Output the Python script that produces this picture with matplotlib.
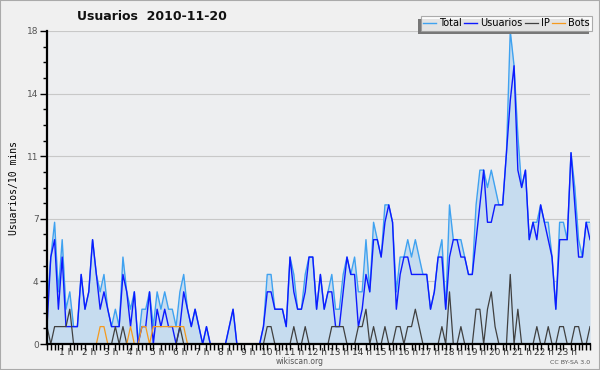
import matplotlib
matplotlib.use("Agg")
import matplotlib.pyplot as plt
from matplotlib.patches import Rectangle
import numpy as np

# 10-minute slots over one day (144 values)
total = [2, 5, 7, 3, 6, 2, 3, 1, 1, 4,
         2, 3, 6, 4, 3, 4, 2, 1, 2, 1,
         5, 3, 2, 3, 0, 2, 2, 3, 1, 3,
         2, 3, 2, 2, 1, 3, 4, 2, 1, 2,
         1, 0, 1, 0, 0, 0, 0, 0, 1, 2,
         0, 0, 0, 0, 0, 0, 0, 1, 4, 4,
         2, 2, 2, 1, 5, 4, 2, 2, 4, 5,
         5, 2, 4, 2, 3, 4, 2, 2, 4, 5,
         4, 5, 3, 3, 6, 3, 7, 6, 5, 8,
         8, 7, 3, 5, 5, 6, 5, 6, 5, 4,
         4, 2, 3, 5, 6, 2, 8, 6, 6, 6,
         5, 4, 4, 8, 10, 10, 9, 10, 9, 8,
         8, 11, 18, 16, 12, 9, 10, 6, 7, 7,
         8, 7, 7, 5, 2, 7, 7, 6, 11, 9,
         6, 5, 7, 7]
usuarios = [1, 5, 6, 2, 5, 1, 1, 1, 1, 4,
            2, 3, 6, 4, 2, 3, 2, 1, 1, 1,
            4, 3, 1, 3, 0, 1, 1, 3, 0, 2,
            1, 2, 1, 1, 0, 1, 3, 2, 1, 2,
            1, 0, 1, 0, 0, 0, 0, 0, 1, 2,
            0, 0, 0, 0, 0, 0, 0, 1, 3, 3,
            2, 2, 2, 1, 5, 3, 2, 2, 3, 5,
            5, 2, 4, 2, 3, 3, 1, 1, 3, 5,
            4, 4, 1, 2, 4, 3, 6, 6, 5, 7,
            8, 7, 2, 4, 5, 5, 4, 4, 4, 4,
            4, 2, 3, 5, 5, 2, 5, 6, 6, 5,
            5, 4, 4, 6, 8, 10, 7, 7, 8, 8,
            8, 11, 14, 16, 10, 9, 10, 6, 7, 6,
            8, 7, 6, 5, 2, 6, 6, 6, 11, 8,
            5, 5, 7, 6]
ip = [1, 0, 1, 1, 1, 1, 2, 0, 0, 0,
      0, 0, 0, 0, 0, 0, 0, 0, 1, 0,
      1, 0, 0, 0, 0, 0, 0, 0, 0, 0,
      0, 0, 0, 0, 0, 1, 0, 0, 0, 0,
      0, 0, 0, 0, 0, 0, 0, 0, 0, 0,
      0, 0, 0, 0, 0, 0, 0, 0, 1, 1,
      0, 0, 0, 0, 0, 1, 0, 0, 1, 0,
      0, 0, 0, 0, 0, 1, 1, 1, 1, 0,
      0, 0, 1, 1, 2, 0, 1, 0, 0, 1,
      0, 0, 1, 1, 0, 1, 1, 2, 1, 0,
      0, 0, 0, 0, 1, 0, 3, 0, 0, 1,
      0, 0, 0, 2, 2, 0, 2, 3, 1, 0,
      0, 0, 4, 0, 2, 0, 0, 0, 0, 1,
      0, 0, 1, 0, 0, 1, 1, 0, 0, 1,
      1, 0, 0, 1]
bots = [0] * 144
for k in [14, 15, 22, 25, 26, 28, 29, 30, 31, 32, 33, 34, 35, 36]:
    bots[k] = 1

hour_labels = ["%d h" % h for h in range(1, 24)]
ytick_vals = [0, 3.6, 7.2, 10.8, 14.4, 18]
ytick_labels = ["0", "4", "7", "11", "14", "18"]

x = np.arange(len(total))

fig = plt.figure(figsize=(6, 3.7), dpi=100, facecolor="#f0f0f0")
ax = fig.add_axes([47/600, 1-344/370, 543/600, 313/370])
ax.set_facecolor("#edeef0")

ax.fill_between(x, total, color="#c6dcef", lw=0)
ax.plot(x, total, color="#3fa2f0", lw=1.0, label="Total")
ax.plot(x, usuarios, color="#0d1aff", lw=1.0, label="Usuarios")
ax.plot(x, ip, color="#404040", lw=0.9, label="IP")
ax.plot(x, bots, color="#f59a1e", lw=0.9, label="Bots")

ax.set_xlim(0, 143)
ax.set_ylim(0, 18)
ax.set_yticks(ytick_vals)
ax.set_yticklabels(ytick_labels)
ax.set_yticks(np.arange(0, 18.01, 0.9), minor=True)
ax.yaxis.grid(True, color="#c8c8c8", lw=0.8)
ax.set_axisbelow(True)

ax.set_xticks([6*h - 1 for h in range(1, 24)])
ax.set_xticklabels(hour_labels)
ax.set_xticks(x, minor=True)
ax.tick_params(axis="x", which="major", length=0, pad=3, labelsize=6.5, colors="#333333")
ax.tick_params(axis="x", which="minor", length=4, width=1, color="black")
ax.tick_params(axis="y", which="major", length=5, width=1, labelsize=6.5, labelcolor="#555555", pad=1)
ax.tick_params(axis="y", which="minor", length=3, width=1)

for s in ["top", "right"]:
    ax.spines[s].set_visible(False)
for s in ["left", "bottom"]:
    ax.spines[s].set_linewidth(1.6)

ax.set_ylabel("Usuarios/10 mins", family="DejaVu Sans Mono", fontsize=7, labelpad=6)

leg = ax.legend(loc="upper right", bbox_to_anchor=(592/600, 1-16/370),
                bbox_transform=fig.transFigure, ncol=4, fontsize=7,
                frameon=True, fancybox=False,
                handlelength=1.3, handletextpad=0.3, columnspacing=0.3,
                borderpad=0.25, borderaxespad=0)
leg.get_frame().set_facecolor("white")
leg.get_frame().set_edgecolor("#999999")
leg.get_frame().set_linewidth(0.8)
leg.set_zorder(6)

# shadow offset to the lower left, as in the original
fig.canvas.draw()
bb = leg.get_window_extent()
shadow = Rectangle((bb.x0 - 3, bb.y0 - 3), bb.width, bb.height, transform=None,
                   facecolor="#777777", edgecolor="none", zorder=5.5, clip_on=False)
ax.add_artist(shadow)

fig.text(77/600, 1-17/370, "Usuarios  2010-11-20", fontsize=9, fontweight="bold",
         ha="left", va="center", color="#111111")
fig.text(300/600, 1-362/370, "wikiscan.org", fontsize=5.5, ha="center", va="center", color="#555555")
fig.text(590/600, 1-362/370, "CC BY-SA 3.0", fontsize=4.5, ha="right", va="center", color="#555555")

fig.patches.append(Rectangle((0, 0), 1, 1, transform=fig.transFigure, fill=False,
                             edgecolor="#aaaaaa", lw=1.5))

fig.savefig("out.png", dpi=100, facecolor=fig.get_facecolor())
